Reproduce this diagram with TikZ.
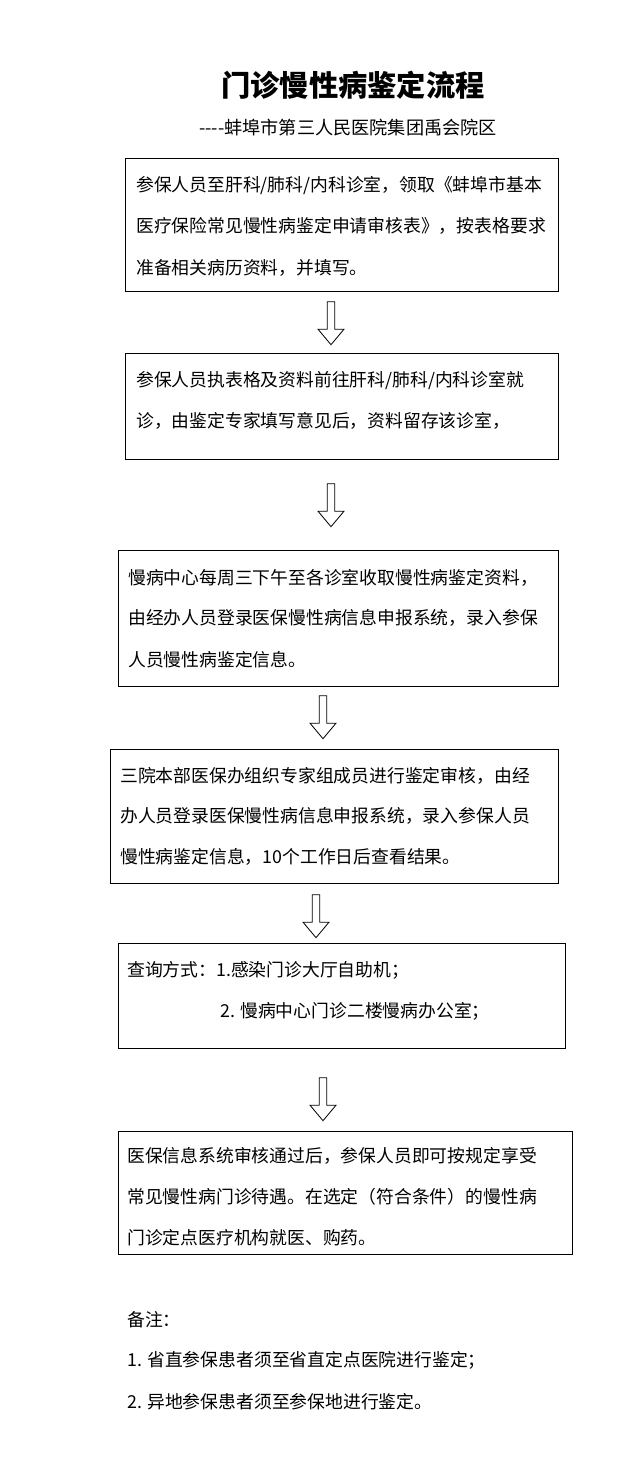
\documentclass[tikz,border=0pt]{standalone}
\usepackage{fontspec}
\setmainfont{Noto Sans CJK SC}
\usetikzlibrary{shapes.arrows}
\def\px{0.03cm}
\tikzset{
  box/.style={draw, line width=0.8pt, inner sep=0pt},
  line/.style={anchor=west, inner sep=0pt, font=\fontsize{15.2}{17}\selectfont},
  downarrow/.style={single arrow, draw, line width=0.7pt, shape border rotate=270,
    minimum width=26*\px, single arrow head extend=7*\px, single arrow tip angle=80,
    minimum height=43*\px, inner sep=2pt}
}
\begin{document}
\begin{tikzpicture}[x=\px, y=-\px]
  \useasboundingbox (0,0) rectangle (642,1483);
  % title
  \node[font=\fontsize{25}{28}\selectfont\bfseries] (title) at (353,85) {门诊慢性病鉴定流程};
  \node[font=\fontsize{15.5}{18}\selectfont] (sub) at (348,128) {{-}{-}{-}{-}蚌埠市第三人民医院集团禹会院区};
  % boxes
  \node[box, minimum width=433*\px, minimum height=133*\px] (b1) at (341.5,224.5) {};
  \node[box, minimum width=433*\px, minimum height=106*\px] (b2) at (341.5,406) {};
  \node[box, minimum width=440*\px, minimum height=136*\px] (b3) at (338,618) {};
  \node[box, minimum width=448*\px, minimum height=134*\px] (b4) at (334,816) {};
  \node[box, minimum width=447*\px, minimum height=105*\px] (b5) at (341.5,995.5) {};
  \node[box, minimum width=454*\px, minimum height=123*\px] (b6) at (345,1192.5) {};
  % arrows
  \node[downarrow] (a1) at (331,321) {};
  \node[downarrow] (a2) at (331,503) {};
  \node[downarrow] (a3) at (323,715) {};
  \node[downarrow] (a4) at (316,914) {};
  \node[downarrow] (a5) at (323,1097) {};
  % texts
  \node[line] (t11) at (136,186) {参保人员至肝科/肺科/内科诊室，领取《蚌埠市基本};
  \node[line] (t12) at (136,226) {医疗保险常见慢性病鉴定申请审核表》，按表格要求};
  \node[line] (t13) at (136,268) {准备相关病历资料，并填写。};
  \node[line] (t21) at (136,381) {参保人员执表格及资料前往肝科/肺科/内科诊室就};
  \node[line] (t22) at (136,421) {诊，由鉴定专家填写意见后，资料留存该诊室，};
  \node[line] (t31) at (128,578) {慢病中心每周三下午至各诊室收取慢性病鉴定资料，};
  \node[line] (t32) at (128,618) {由经办人员登录医保慢性病信息申报系统，录入参保};
  \node[line] (t33) at (128,660) {人员慢性病鉴定信息。};
  \node[line] (t41) at (120,776) {三院本部医保办组织专家组成员进行鉴定审核，由经};
  \node[line] (t42) at (120,816) {办人员登录医保慢性病信息申报系统，录入参保人员};
  \node[line] (t43) at (120,857) {慢性病鉴定信息，10个工作日后查看结果。};
  \node[line] (t51) at (127,970) {查询方式：1.感染门诊大厅自助机；};
  \node[line] (t52) at (220,1011) {2. 慢病中心门诊二楼慢病办公室；};
  \node[line] (t61) at (127,1156) {医保信息系统审核通过后，参保人员即可按规定享受};
  \node[line] (t62) at (127,1197) {常见慢性病门诊待遇。在选定（符合条件）的慢性病};
  \node[line] (t63) at (127,1238) {门诊定点医疗机构就医、购药。};
  % notes
  \node[line] (n0) at (127,1320) {备注：};
  \node[line] (n1) at (127,1360) {1. 省直参保患者须至省直定点医院进行鉴定；};
  \node[line] (n2) at (127,1402) {2. 异地参保患者须至参保地进行鉴定。};
\end{tikzpicture}
\end{document}
